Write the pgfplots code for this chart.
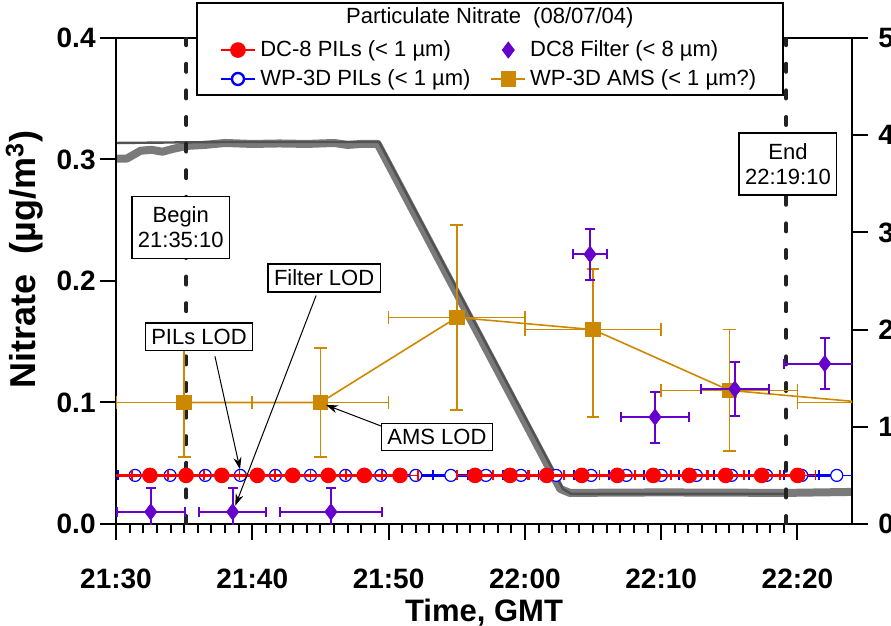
\documentclass[border=0pt]{standalone}
\usepackage{pgfplots}
\usepackage{pgfplotstable}
\pgfplotsset{compat=1.18}
\usepackage{fontspec}
\setmainfont{Liberation Sans}
\usetikzlibrary{arrows.meta}

\definecolor{pilred}{RGB}{255,0,0}
\definecolor{pilblue}{RGB}{0,0,255}
\definecolor{filtpurple}{RGB}{102,0,204}
\definecolor{amsorange}{RGB}{204,136,0}
\definecolor{altgray}{RGB}{122,122,122}
\definecolor{altdark}{RGB}{82,82,82}
\definecolor{markline}{RGB}{34,34,34}

% DC-8 filter samples: time (min after 21:30), nitrate, x half-width, y error
\pgfplotstableread{
t      v      ex    ey
2.55   0.010  2.50  0.020
8.56   0.010  2.47  0.020
15.77  0.010  3.77  0.020
34.78  0.222  1.25  0.021
39.55  0.088  2.50  0.021
45.40  0.111  2.50  0.022
52.00  0.132  3.00  0.021
}\filtertab

% WP-3D AMS averages (upper and lower error given separately)
\pgfplotstableread{
t   v      ex  eyp    eym
5   0.100  5   0.045  0.045
15  0.100  5   0.045  0.045
25  0.170  5   0.076  0.076
35  0.160  5   0.050  0.072
45  0.110  5   0.050  0.050
55  0.100  5   0.050  0.050
}\amstab

\begin{document}
\begin{tikzpicture}
\pgfplotsset{
  base/.style={
    width=368pt, height=243pt, scale only axis,
    xmin=0, xmax=54,
    tick align=outside,
    major tick length=8pt,
    minor tick length=4.5pt,
    tick style={black, line width=1pt},
    axis line style={black, line width=0.9pt},
    ticklabel style={font=\bfseries\fontsize{14}{14}\selectfont},
  }
}
% flight altitude, right-hand scale
\begin{axis}[base, name=alt,
  hide x axis, axis y line*=right,
  ymin=0, ymax=5,
  ytick={0,1,2,3,4,5}, yticklabels={0,1,2,3,4,5},
  yticklabel style={inner sep=1pt, xshift=4pt},
  clip mode=individual]
\addplot[altgray, line width=4pt, line join=round, line cap=round] coordinates {
  (0,3.76) (0.8,3.76) (1.3,3.80) (1.8,3.84) (2.6,3.85) (3.4,3.83) (4.2,3.86)
  (5.2,3.89) (6.5,3.90) (8.0,3.92) (10,3.91) (12,3.915) (14,3.91) (16,3.92)
  (17,3.90) (18,3.91) (19.2,3.91) (32.6,0.36) (33.3,0.32) (40,0.325)
  (49.2,0.32) (54,0.33)};
\addplot[altdark, line width=1.2pt, line join=round] coordinates {
  (0,3.92) (8,3.93) (19.3,3.93) (32.8,0.36) (33.4,0.31) (49.2,0.31)};
\end{axis}

\begin{axis}[base, name=ax,
  ymin=0, ymax=0.4,
  xtick pos=left, ytick pos=left,
  xtick={0,10,20,30,40,50},
  xticklabels={21:30,21:40,21:50,22:00,22:10,22:20},
  minor x tick num=9,
  ytick={0,0.1,0.2,0.3,0.4},
  yticklabels={0.0,0.1,0.2,0.3,0.4},
  yticklabel style={inner sep=1pt, xshift=-1pt},
  xticklabel style={yshift=-11pt},
  xlabel={Time, GMT},
  ylabel={Nitrate\ \ (µg/m\textsuperscript{3})},
  xlabel style={font=\bfseries\fontsize{15.5}{15.5}\selectfont, yshift=2pt},
  ylabel style={font=\bfseries\fontsize{18}{18}\selectfont,
    at={(ticklabel cs:0.545)}, yshift=2pt},
  unbounded coords=jump,
  clip mode=individual,
  legend columns=2,
  legend cell align=left,
  legend style={draw=none, fill=none, at={(0.508,1.012)}, anchor=north,
    font=\fontsize{11}{13}\selectfont, row sep=1pt,
    /tikz/every even column/.append style={column sep=8pt}},
]
% flight-leg markers
\addplot[markline, line width=2pt, line cap=round, dash pattern=on 4pt off 9.3pt, forget plot]
  coordinates {(5.167,0) (5.167,0.4)};
\addplot[markline, line width=2pt, line cap=round, dash pattern=on 4pt off 9.3pt, forget plot]
  coordinates {(49.167,0) (49.167,0.4)};

% WP-3D PILs
\addplot[forget plot, pilblue, line width=1.2pt, mark=*, mark size=3pt,
  mark options={fill=white, draw=pilblue, line width=0.6pt},
  error bars/.cd, x dir=both, x fixed=1.3,
  error bar style={pilblue, line width=0.8pt},
  error mark options={rotate=90, pilblue, mark size=2.5pt, line width=0.8pt}]
  coordinates {
  (-1.17,0.04) (1.40,0.04) (3.97,0.04) (6.55,0.04) (9.12,0.04) (11.70,0.04)
  (14.27,0.04) (16.84,0.04) (19.42,0.04) (21.99,0.04) (24.57,0.04) (27.14,0.04)
  (29.71,0.04) (32.29,0.04) (34.86,0.04) (37.44,0.04) (40.01,0.04) (42.58,0.04)
  (45.16,0.04) (47.73,0.04) (50.31,0.04) (52.88,0.04)};

% DC-8 PILs
\addplot[forget plot, pilred, line width=1.3pt, mark=*, mark size=3.25pt,
  mark options={fill=pilred, draw=pilred},
  error bars/.cd, x dir=both, x fixed=1.3,
  error bar style={pilred, line width=0.8pt},
  error mark options={rotate=90, pilred, mark size=2.5pt, line width=0.8pt}]
  coordinates {
  (-0.13,0.04) (2.49,0.04) (5.14,0.04) (7.76,0.04) (10.37,0.04) (12.96,0.04)
  (15.58,0.04) (18.22,0.04) (20.84,0.04) (23.6,nan) (26.34,0.04) (28.91,0.04)
  (31.6,0.04) (34.17,0.04) (36.78,0.04) (39.42,0.04) (42.06,0.04) (44.73,0.04)
  (47.37,0.04) (50.01,0.04)};

% WP-3D AMS
\addplot[forget plot, amsorange, line width=0.8pt, mark=square*, mark size=3.5pt,
  mark options={fill=amsorange, draw=amsorange},
  error bars/.cd, x dir=both, x explicit, y dir=both, y explicit,
  error bar style={amsorange, line width=0.8pt},
  error mark options={rotate=90, amsorange, mark size=3.2pt, line width=0.8pt}]
  table[x=t, y=v, x error=ex, y error plus=eyp, y error minus=eym] {\amstab};

% DC-8 filters
\addplot[forget plot, only marks, filtpurple, mark=diamond*, mark size=4pt,
  mark options={fill=filtpurple, draw=filtpurple},
  error bars/.cd, x dir=both, x explicit, y dir=both, y explicit,
  error bar style={filtpurple, line width=1pt},
  error mark options={rotate=90, filtpurple, mark size=2.5pt, line width=1pt}]
  table[x=t, y=v, x error=ex, y error=ey] {\filtertab};

% annotations
\tikzset{lab/.style={draw=black, fill=white, line width=0.7pt, align=center,
  font=\fontsize{11}{12.5}\selectfont, inner xsep=3pt, inner ysep=3pt}}
\draw[-{Stealth[length=6pt,width=4pt]}, line width=0.5pt] (axis cs:7.26,0.138) -- (axis cs:9.1,0.045);
\draw[-{Stealth[length=6pt,width=4pt]}, line width=0.5pt] (axis cs:14.68,0.188) -- (axis cs:8.75,0.015);
\draw[-{Stealth[length=6pt,width=4pt]}, line width=0.5pt] (axis cs:19.6,0.08) -- (axis cs:15.4,0.098);
\node[lab, minimum height=31pt] at (axis cs:4.75,0.244) {Begin\\21:35:10};
\node[lab, minimum height=31pt] at (axis cs:49.3,0.2963) {End\\22:19:10};
\node[lab] at (axis cs:15.27,0.2025) {Filter LOD};
\node[lab] at (axis cs:6.09,0.154) {PILs LOD};
\node[lab] at (axis cs:23.55,0.0716) {AMS LOD};

% legend frame and heading
\draw[fill=white, line width=0.9pt] (axis cs:5.94,0.3531) rectangle (axis cs:48.94,0.4288);
\node[font=\fontsize{11}{13}\selectfont] at (axis cs:27.43,0.4165) {Particulate Nitrate\ \ (08/07/04)};

\addlegendimage{pilred, line width=1.3pt, mark=*, mark size=3.25pt, mark options={fill=pilred}}
\addlegendentry{DC-8 PILs (< 1 µm)}
\addlegendimage{only marks, filtpurple, mark=diamond*, mark size=4pt, mark options={fill=filtpurple}}
\addlegendentry{DC8 Filter (< 8 µm)}
\addlegendimage{pilblue, line width=1.2pt, mark=*, mark size=3pt, mark options={fill=white, draw=pilblue}}
\addlegendentry{WP-3D PILs (< 1 µm)}
\addlegendimage{amsorange, line width=0.8pt, mark=square*, mark size=3.5pt, mark options={fill=amsorange}}
\addlegendentry{WP-3D AMS (< 1 µm?)}
\end{axis}

\pgfresetboundingbox
\path[use as bounding box] ([shift={(-58pt,-50.5pt)}]ax.south west) rectangle ([shift={(19.5pt,19pt)}]ax.north east);
\end{tikzpicture}
\end{document}
